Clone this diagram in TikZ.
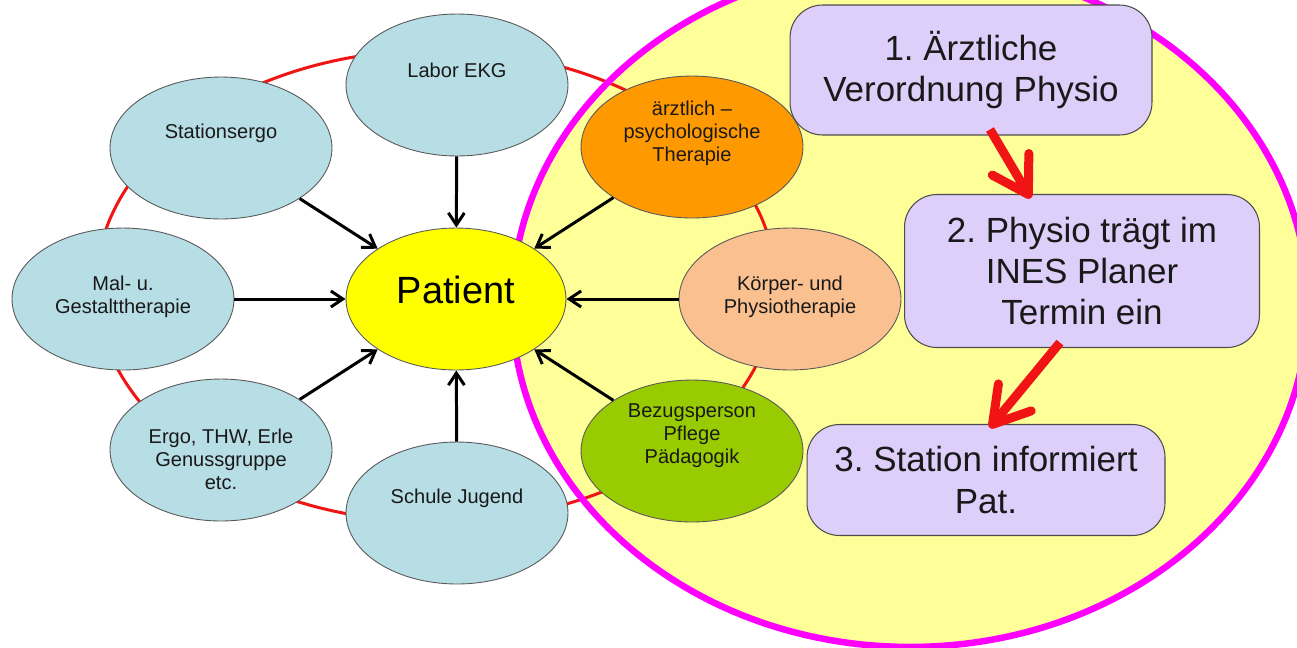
\documentclass[tikz,border=0pt]{standalone}
\usepackage{fontspec}
\setmainfont{Liberation Sans}
\usetikzlibrary{arrows.meta,shapes.geometric}
\frenchspacing

\definecolor{satblue}{RGB}{183,221,229}
\definecolor{patyellow}{RGB}{255,255,0}
\definecolor{psyorange}{RGB}{255,153,0}
\definecolor{physpeach}{RGB}{250,192,144}
\definecolor{caregreen}{RGB}{153,204,0}
\definecolor{palesun}{RGB}{255,255,153}
\definecolor{rimmagenta}{RGB}{255,0,255}
\definecolor{ringred}{RGB}{240,20,20}
\definecolor{steplilac}{RGB}{222,207,250}

\begin{document}
\begin{tikzpicture}[
    x               = 0.02cm,
    y               = -0.02cm,
    sat/.style      = {ellipse, draw=black!65, line width=0.5pt, minimum width=4.44cm, minimum height=2.84cm, inner sep=0pt},
    sattext/.style  = {font=\fontsize{11.4}{13.1}\selectfont, align=center, text=black!90},
    feed/.style     = {draw, line width=1.7pt, -{Straight Barb[length=0.24cm,width=0.32cm]}},
    stepbox/.style  = {draw=black!70, line width=0.6pt, fill=steplilac, rounded corners=0.65cm, align=center,
                       font=\fontsize{19.9}{23.5}\selectfont, text=black!90},
    flow/.style     = {draw=ringred, line width=0.18cm, shorten <=-0.14cm, shorten >=-0.1cm,
                       -{Straight Barb[length=0.7cm,width=0.85cm,round]}}
  ]
\useasboundingbox (0,0) rectangle (1297,647);
\clip (0,0) rectangle (1297,647);

\fill[palesun] (910,305) ellipse [x radius=7.96cm, y radius=6.84cm];
\draw[ringred, line width=0.06cm] (436,286) ellipse [x radius=6.8cm, y radius=4.72cm];
\draw[rimmagenta, line width=0.13cm] (910,305) ellipse [x radius=7.96cm, y radius=6.84cm];

\node[sat, fill=satblue, label={[sattext,yshift=0.3cm]center:Labor EKG}] (labor) at (457,85) {};
\node[sat, fill=satblue, label={[sattext,yshift=0.3cm]center:Stationsergo}] (station) at (221,148) {};
\node[sat, fill=satblue, label={[sattext,yshift=0.05cm]center:{Mal- u.\\Gestalttherapie}}] (malen) at (123,299) {};
\node[sat, fill=satblue, label={[sattext,yshift=-0.18cm]center:{Ergo, THW, Erle\\Genussgruppe\\etc.}}] (ergo) at (221,450) {};
\node[sat, fill=satblue, label={[sattext,yshift=0.3cm]center:Schule Jugend}] (schule) at (457,513) {};
\node[sat, fill=caregreen, label={[sattext,yshift=0.3cm]center:{Bezugsperson\\Pflege\\Pädagogik}}] (bezug) at (692,451) {};
\node[sat, fill=physpeach, label={[sattext,yshift=0.05cm]center:{Körper- und\\Physiotherapie}}] (koerper) at (790,299) {};
\node[sat, fill=psyorange, label={[sattext,yshift=0.28cm]center:{ärztlich –\\psychologische\\Therapie}}] (psych) at (692,147) {};
\node[sat, fill=patyellow, minimum width=4.4cm, label={[font=\fontsize{21.6}{25}\selectfont,yshift=0.18cm]center:Patient}] (patient) at (456,299) {};

\draw[feed] (labor) -- (patient);
\draw[feed] (station) -- (patient);
\draw[feed] (malen) -- (patient);
\draw[feed] (ergo) -- (patient);
\draw[feed] (schule) -- (patient);
\draw[feed] (bezug) -- (patient);
\draw[feed] (koerper) -- (patient);
\draw[feed] (psych) -- (patient);

\node[stepbox, minimum width=7.24cm, minimum height=2.6cm] (order) at (971,70) {1. Ärztliche\\Verordnung Physio};
\node[stepbox, minimum width=7.1cm, minimum height=3.06cm] (plan) at (1082,271) {2. Physio trägt im\\INES Planer\\Termin ein};
\node[stepbox, minimum width=7.16cm, minimum height=2.22cm] (inform) at (986,480) {3. Station informiert\\Pat.};

\draw[flow] (order.-71) -- (plan.125);
\draw[flow] (plan.-109) -- (inform.83);
\end{tikzpicture}
\end{document}
